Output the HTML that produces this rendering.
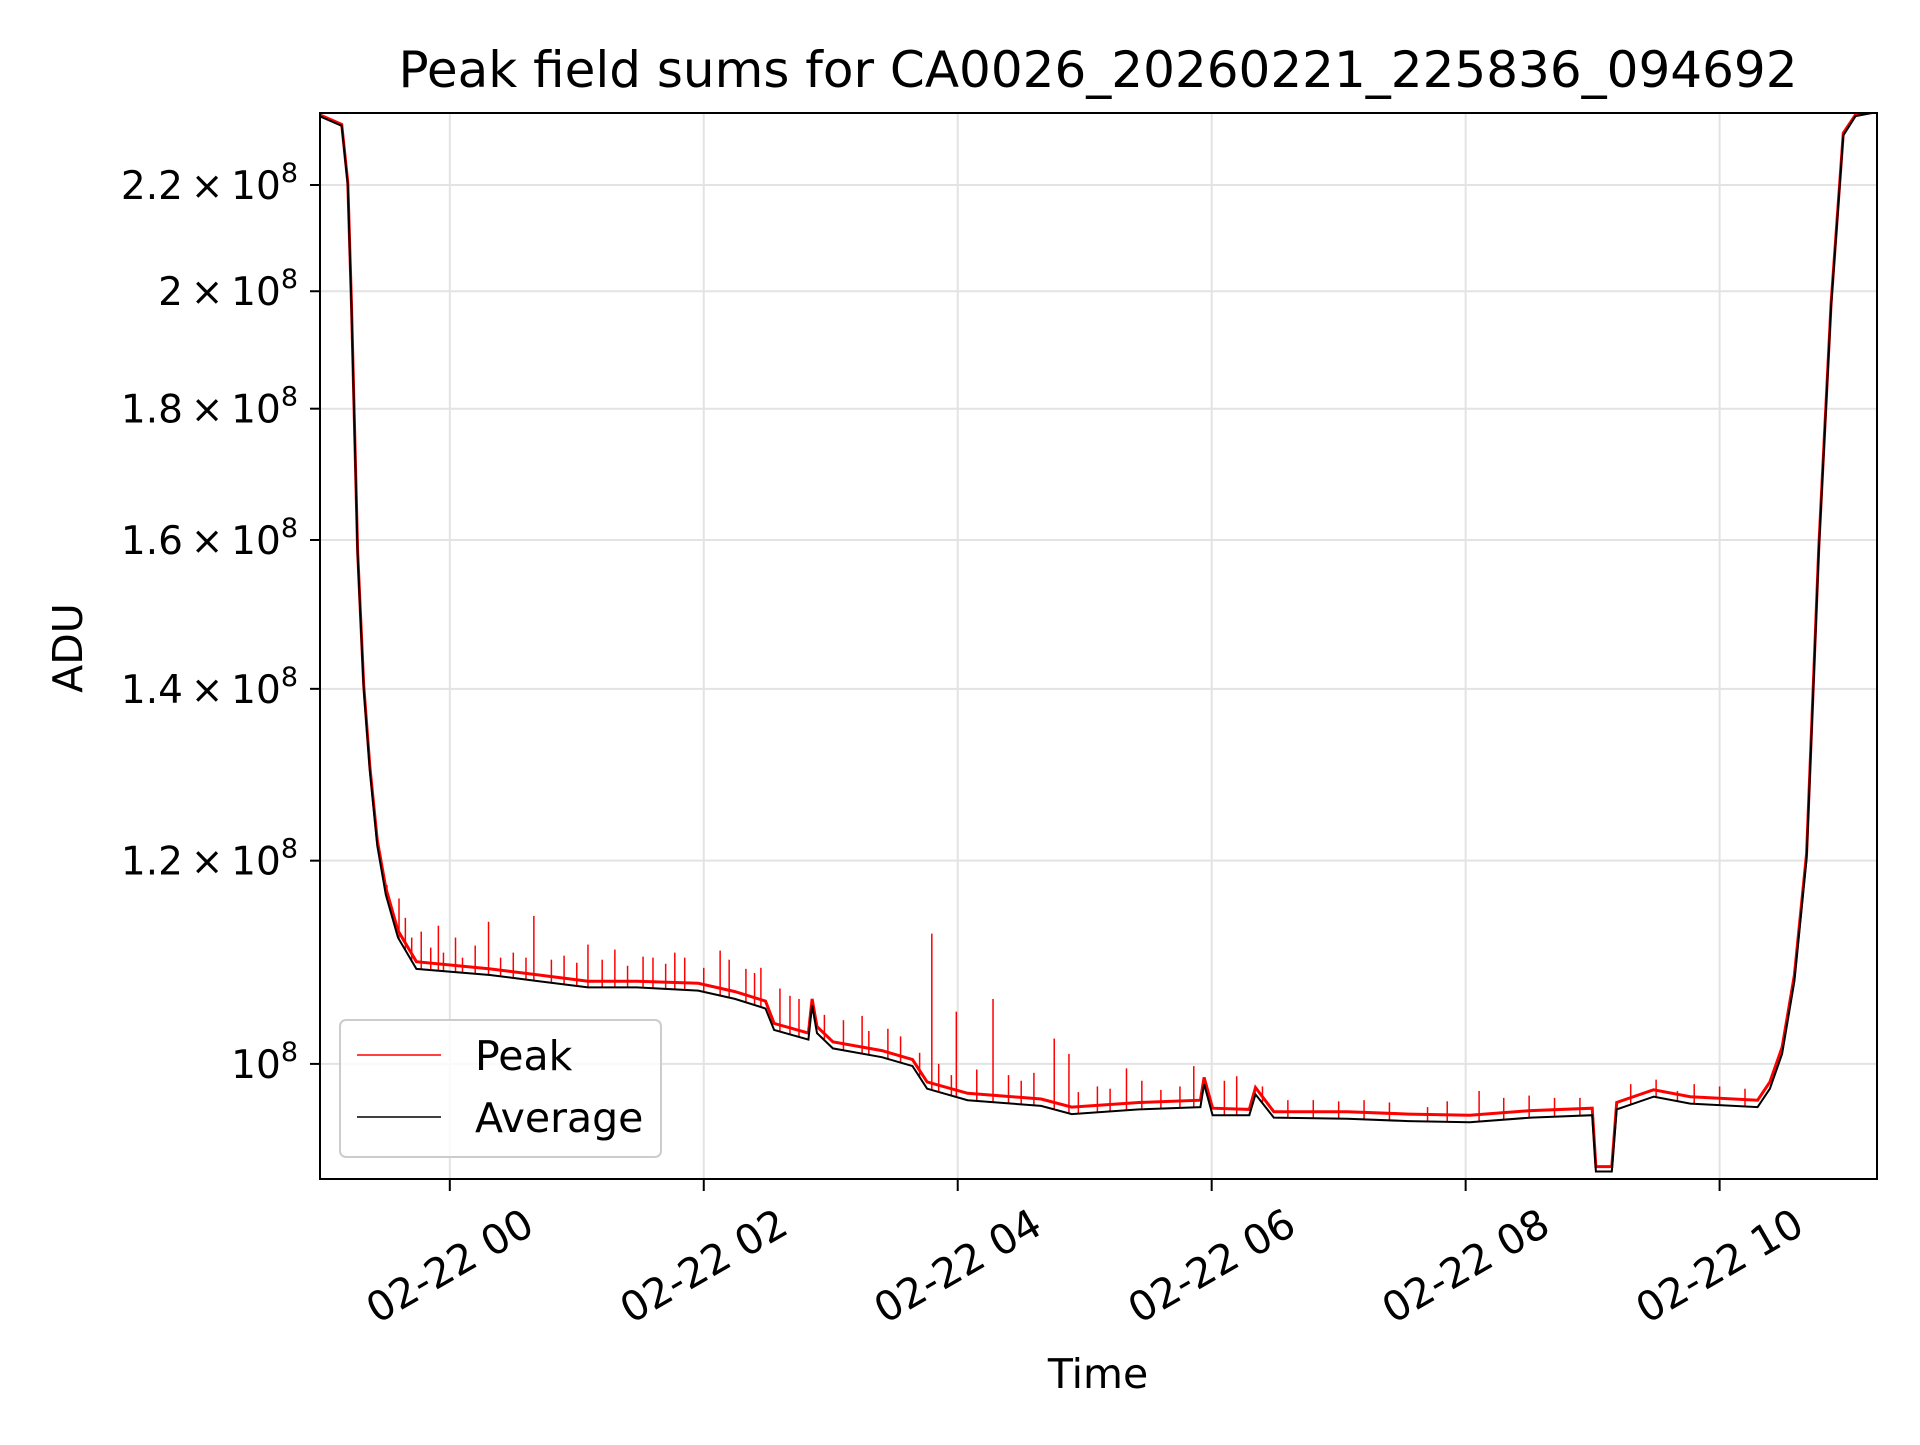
<!DOCTYPE html>
<html><head><meta charset="utf-8"><style>
html,body{margin:0;padding:0;background:#fff;}
svg text{font-family:"DejaVu Sans","Liberation Sans",sans-serif;fill:#000;}
</style></head><body>
<svg id="chart" width="1920" height="1440" viewBox="0 0 1920 1440" xmlns="http://www.w3.org/2000/svg">
<rect width="1920" height="1440" fill="#fff"/>
<text x="1098" y="87" font-size="50" text-anchor="middle">Peak field sums for CA0026_20260221_225836_094692</text>
<text transform="translate(82,648) rotate(-90)" font-size="41" text-anchor="middle">ADU</text>
<text x="1098" y="1388" font-size="41" text-anchor="middle">Time</text>
<g id="grid"></g>
<g id="series"></g>
<rect x="320" y="113" width="1557" height="1066" fill="none" stroke="#000" stroke-width="2"/>
<g id="ticks"></g>
<g>
<rect x="340" y="1020" width="321" height="137" rx="6" fill="#fff" fill-opacity="0.8" stroke="#ccc" stroke-width="2"/>
<line x1="357" y1="1055" x2="441" y2="1055" stroke="#f00" stroke-width="1.5"/>
<text x="475" y="1070" font-size="41">Peak</text>
<line x1="357" y1="1117" x2="441" y2="1117" stroke="#000" stroke-width="1.5"/>
<text x="475" y="1132" font-size="41">Average</text>
</g>
</svg>
<script>
// hours relative to 02-22 00:00; values in units of 1e8 ADU
const avgTimes = [-1.025,-0.851,-0.803,-0.774,-0.726,-0.678,-0.629,-0.571,-0.504,-0.408,-0.263,0.316,0.702,1.088,1.473,1.956,2.245,2.486,2.554,2.824,2.853,2.892,3.017,3.403,3.644,3.759,4.078,4.657,4.898,5.428,5.911,5.940,6.007,6.296,6.345,6.489,7.068,7.550,8.033,8.515,8.997,9.026,9.151,9.190,9.480,9.769,10.299,10.396,10.492,10.589,10.685,10.781,10.878,10.974,11.070,11.225];
const avgValues = [2.34,2.32,2.20,1.97,1.58,1.40,1.30,1.216,1.164,1.12,1.089,1.083,1.077,1.071,1.071,1.068,1.060,1.051,1.031,1.022,1.054,1.028,1.014,1.006,0.998,0.978,0.968,0.963,0.956,0.960,0.962,0.982,0.955,0.955,0.973,0.953,0.952,0.950,0.949,0.953,0.955,0.908,0.908,0.960,0.971,0.965,0.962,0.978,1.009,1.077,1.202,1.584,1.973,2.30,2.34,2.348];
const peakValues = [2.343,2.323,2.205,1.975,1.585,1.405,1.305,1.222,1.171,1.127,1.096,1.089,1.083,1.077,1.077,1.075,1.067,1.058,1.037,1.028,1.060,1.034,1.020,1.012,1.004,0.984,0.974,0.969,0.962,0.966,0.968,0.988,0.961,0.960,0.979,0.958,0.958,0.956,0.955,0.959,0.961,0.912,0.912,0.966,0.977,0.971,0.968,0.984,1.015,1.083,1.208,1.590,1.979,2.305,2.343,2.349];
const spikeTimes = [-0.495,-0.225,-0.090,0.045,0.305,0.662,1.088,1.522,1.772,2.129,2.332,2.679,3.247,3.796,3.989,4.278,4.760,4.876,5.329,5.859,6.197,7.855,8.106,9.668,
 -0.4,-0.35,-0.3,-0.15,-0.05,0.1,0.2,0.4,0.5,0.6,0.8,0.9,1.0,1.2,1.3,1.4,1.6,1.7,1.85,2.0,2.2,2.4,2.45,2.6,2.75,2.95,3.1,3.3,3.45,3.55,3.7,3.85,3.95,4.15,4.4,4.5,4.6,4.95,5.1,5.2,5.45,5.6,5.75,6.1,6.4,6.6,6.8,7.0,7.2,7.4,7.7,8.3,8.5,8.7,8.9,9.3,9.5,9.8,10.0,10.2];
const spikeValues = [1.174,1.126,1.132,1.120,1.136,1.142,1.113,1.101,1.105,1.107,1.089,1.063,1.044,1.124,1.048,1.060,1.023,1.009,0.996,0.998,0.989,0.967,0.976,0.976,
 1.16,1.14,1.12,1.11,1.105,1.10,1.112,1.10,1.105,1.10,1.098,1.102,1.095,1.098,1.108,1.092,1.10,1.094,1.10,1.09,1.098,1.085,1.09,1.07,1.06,1.045,1.04,1.03,1.032,1.025,1.01,1.0,0.99,0.995,0.99,0.985,0.992,0.975,0.98,0.978,0.985,0.977,0.98,0.985,0.98,0.968,0.968,0.967,0.968,0.966,0.962,0.97,0.972,0.97,0.97,0.982,0.986,0.982,0.98,0.978];
const xTickHours = [0,2,4,6,8,10];
const xTickLabels = ["02-22 00","02-22 02","02-22 04","02-22 06","02-22 08","02-22 10"];
const yTickValues = [1.0,1.2,1.4,1.6,1.8,2.0,2.2];
const yTickMant = ["","1.2","1.4","1.6","1.8","2","2.2"];

const NS = "http://www.w3.org/2000/svg";
const L=320,R=1877,T=113,B=1179;
function xs(h){return 449.8 + h*126.98;}
function ys(v){return 1063.9 - Math.log10(v)*2566.7;}
function mk(tag,attrs,parent){const e=document.createElementNS(NS,tag);for(const k in attrs)e.setAttribute(k,attrs[k]);parent.appendChild(e);return e;}
const grid=document.getElementById('grid'),ticks=document.getElementById('ticks'),series=document.getElementById('series');

xTickHours.forEach((h,i)=>{
  const x=xs(h);
  const g=mk('line',{x1:x,y1:T,x2:x,y2:B,stroke:'#e3e3e3','stroke-width':2},grid);
  
  
  const t=mk('line',{x1:x,y1:B,x2:x,y2:B+12,stroke:'#000','stroke-width':2},ticks);
  
  
  const lb=mk('text',{transform:`translate(${x},1266) rotate(-30)`,'font-size':41,'text-anchor':'middle','dominant-baseline':'central'},ticks);
  lb.textContent=xTickLabels[i];
  
  
});
yTickValues.forEach((v,i)=>{
  const y=ys(v);
  const g=mk('line',{x1:L,y1:y,x2:R,y2:y,stroke:'#e3e3e3','stroke-width':2},grid);
  
  
  const t=mk('line',{x1:L-10,y1:y,x2:L,y2:y,stroke:'#000','stroke-width':2},ticks);
  
  
  const lb=mk('text',{x:298,y:y+14,'font-size':39,'text-anchor':'end'},ticks);
  
  
  const pre = yTickMant[i] ? yTickMant[i]+"\u2009\u00d7\u200910" : "10";
  lb.appendChild(document.createTextNode(pre));
  const sup=mk('tspan',{dy:-17,'font-size':27},lb);
  sup.textContent="8";
});

function pathOf(times,vals){return times.map((t,i)=>(i?'L':'M')+xs(t).toFixed(1)+','+ys(vals[i]).toFixed(1)).join(' ');}
const clip=mk('clipPath',{id:'pc'},series);mk('rect',{x:L,y:T,width:R-L,height:B-T},clip);
const pk=mk('path',{d:pathOf(avgTimes,peakValues),fill:'none',stroke:'#f00','stroke-width':3,'clip-path':'url(#pc)'},series);


spikeTimes.forEach((t,i)=>{
  let j=0;while(j<avgTimes.length-2&&avgTimes[j+1]<t)j++;
  const f=(t-avgTimes[j])/(avgTimes[j+1]-avgTimes[j]);
  const base=avgValues[j]+(avgValues[j+1]-avgValues[j])*f;
  const s=mk('line',{x1:xs(t),y1:ys(base),x2:xs(t),y2:ys(spikeValues[i]),stroke:'#f00','stroke-width':1.5},series);
  
  
});
const av=mk('path',{d:pathOf(avgTimes,avgValues),fill:'none',stroke:'#000','stroke-width':2,'clip-path':'url(#pc)'},series);


</script>
</body></html>
